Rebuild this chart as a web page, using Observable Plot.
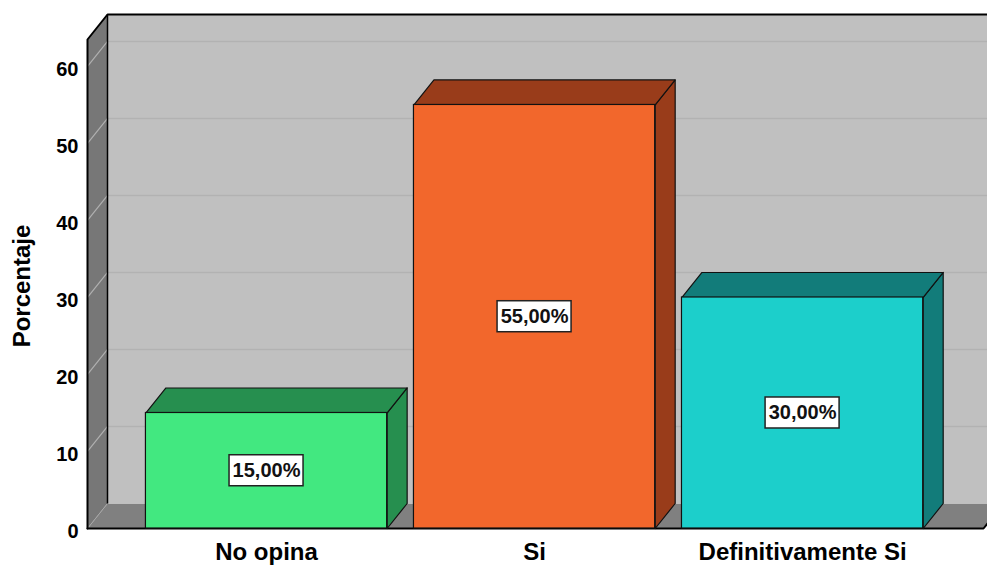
<!DOCTYPE html>
<html>
<head>
<meta charset="utf-8">
<script src="https://cdn.jsdelivr.net/npm/d3@7"></script>
<script src="https://cdn.jsdelivr.net/npm/@observablehq/plot@0.6"></script>
<style>
  html, body { margin: 0; padding: 0; background: #fff; }
  #chart svg { display: block; }
</style>
</head>
<body>
<div id="chart"></div>
<script>
// Survey answers and their share of respondents (%)
const categories = ["No opina", "Si", "Definitivamente Si"];
const percentages = [15, 55, 30];
const frontColors = ["#42e880", "#f2672c", "#1ccfcb"];
const shadeColors = ["#268f4f", "#993c1a", "#127c7a"];
const yTicks = [0, 10, 20, 30, 40, 50, 60];

// Frame geometry
const W = 987, H = 566;
const mL = 87, mR = 4, mT = 39, mB = 38;
const X0 = -0.668, X1 = 2.675;   // category index domain (bars centred on 0, 1, 2)
const YMAX = 63.5;
const kx = (W - mL - mR) / (X1 - X0);   // px per x unit
const ky = (H - mT - mB) / YMAX;        // px per y unit
const DX = 20 / kx, DY = 25 / ky;       // depth of the 3D box, in data units
const HALF = 0.45;                      // half bar width
const BOX_W = 74 / kx, BOX_H = 31 / ky; // value label box

const bars = categories.map((c, i) => ({
  i, category: c, value: percentages[i],
  front: frontColors[i], shade: shadeColors[i],
  label: percentages[i].toFixed(2).replace(".", ",") + "%"
}));

// Polygon helper: closed ring of points with an id and a fill
function polygon(id, fill, pts) {
  const ring = [...pts, pts[0]];
  return ring.map(([x, y]) => ({ id, fill, x, y }));
}

const walls = [
  ...polygon("floor", "#808080", [[X0, 0], [X1, 0], [X1 + DX, DY], [X0 + DX, DY]]),
  ...polygon("left", "#777777", [[X0, 0], [X0, YMAX], [X0 + DX, YMAX + DY], [X0 + DX, DY]])
];

const barFaces = bars.flatMap(d => {
  const a = d.i - HALF, b = d.i + HALF, v = d.value;
  return [
    ...polygon(`side${d.i}`, d.shade, [[b, 0], [b, v], [b + DX, v + DY], [b + DX, DY]]),
    ...polygon(`top${d.i}`, d.shade, [[a, v], [b, v], [b + DX, v + DY], [a + DX, v + DY]])
  ];
});

const gridTicks = yTicks.filter(t => t > 0);

const chart = Plot.plot({
  width: W, height: H,
  marginLeft: mL, marginRight: mR, marginTop: mT, marginBottom: mB,
  style: { fontFamily: "'Liberation Sans', Arial, sans-serif", background: "white", color: "black" },
  x: { domain: [X0, X1] },
  y: { domain: [0, YMAX] },
  color: { type: "identity" },
  marks: [
    // back wall
    Plot.rect([0], { x1: X0 + DX, x2: X1 + DX + 1, y1: DY, y2: YMAX + DY, fill: "#c0c0c0" }),
    // floor and left wall
    Plot.line(walls, { x: "x", y: "y", z: "id", fill: "fill", stroke: "none", curve: "linear" }),
    // gridlines on the back wall
    Plot.ruleY(gridTicks, { y: t => t + DY, x1: X0 + DX, x2: X1 + DX + 1, stroke: "#b2b2b2", strokeWidth: 1.5 }),
    // gridlines running across the left wall
    Plot.link(gridTicks, { x1: X0, y1: t => t, x2: X0 + DX, y2: t => t + DY, stroke: "#b0b0b0", strokeWidth: 1.2 }),
    Plot.link([0], { x1: X0, y1: 0, x2: X0 + DX, y2: DY, stroke: "#a8a8a8", strokeWidth: 1 }),
    // box edges
    Plot.link([0], { x1: X0 + DX, y1: DY, x2: X0 + DX, y2: YMAX + DY, stroke: "#000", strokeWidth: 1.5 }),
    Plot.line([[X0, 0], [X0, YMAX], [X0 + DX, YMAX + DY], [X1 + DX + 1, YMAX + DY]],
      { stroke: "#000", strokeWidth: 2, curve: "linear" }),
    Plot.line([[X0, 0], [X1, 0], [X1 + DX, DY]], { stroke: "#000", strokeWidth: 2, curve: "linear" }),
    // bars: sides and tops
    Plot.line(barFaces, { x: "x", y: "y", z: "id", fill: "fill", stroke: "#111", strokeWidth: 1.2, curve: "linear" }),
    // bars: front faces
    Plot.rectY(bars, { x1: d => d.i - HALF, x2: d => d.i + HALF, y1: 0, y2: "value", fill: "front", stroke: "#111", strokeWidth: 1.2 }),
    // value labels
    Plot.rect(bars, {
      x1: d => d.i - BOX_W / 2, x2: d => d.i + BOX_W / 2,
      y1: d => d.value / 2 - BOX_H / 2, y2: d => d.value / 2 + BOX_H / 2,
      fill: "white", stroke: "#222", strokeWidth: 1.5
    }),
    Plot.text(bars, { x: "i", y: d => d.value / 2, text: "label", fontSize: 20, fontWeight: "bold", fill: "#111" }),
    // axes
    Plot.axisY(yTicks, { tickSize: 0, tickPadding: 9, dy: 3, fontSize: 20, fontWeight: "bold", label: null }),
    Plot.text(["Porcentaje"], { frameAnchor: "left", textAnchor: "middle", rotate: -90, dx: -65, dy: 2, text: d => d, fontSize: 24, fontWeight: "bold" }),
    Plot.axisX([0, 1, 2], { tickFormat: i => categories[i], tickSize: 0, tickPadding: 14, fontSize: 24, fontWeight: "bold", label: null })
  ]
});

document.getElementById("chart").append(chart);
</script>
</body>
</html>
